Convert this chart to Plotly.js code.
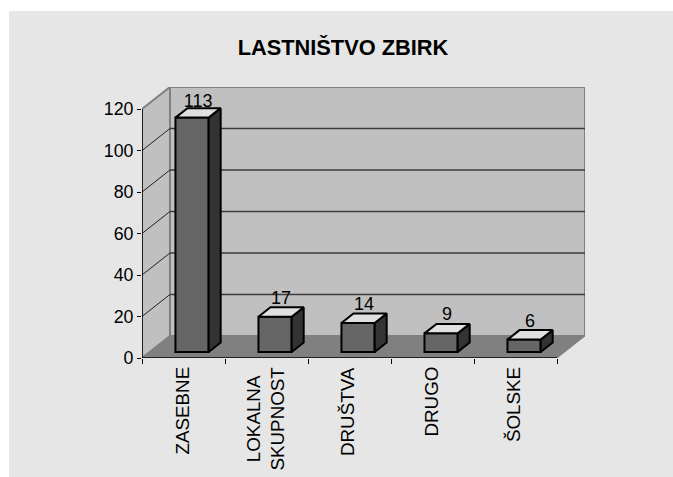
<!DOCTYPE html>
<html><head><meta charset="utf-8">
<script src="https://cdn.plot.ly/plotly-3.0.1.min.js"></script>
<style>html,body{margin:0;padding:0;background:#fff;overflow:hidden}#c{position:absolute;left:9px;top:11px;width:664px;height:466px}</style>
</head><body><div id="c"></div>
<script>
const categories = ["ZASEBNE", "LOKALNA<br>SKUPNOST", "DRUŠTVA", "DRUGO", "ŠOLSKE"];
const values = [113, 17, 14, 9, 6];
const yTicks = [0, 20, 40, 60, 80, 100, 120];
const chartTitle = "LASTNIŠTVO ZBIRK";

// oblique projection of the depth axis, in data units
const depthX = 0.337, depthY = 10.63;
const barWidth = 0.4, frontDepth = 0.27, backDepth = 0.70, barShift = 0.012;
const n = categories.length, yMax = yTicks[yTicks.length - 1];
const xL = -0.5, xR = n - 0.5;
const idx = categories.map((_, i) => i);

const fx = frontDepth * depthX + barShift, fy = frontDepth * depthY;
const bx = backDepth * depthX + barShift, by = backDepth * depthY;
const centers = idx.map(i => i + fx);
const sx = [], sy = [], tx = [], ty = [];
idx.forEach(i => {
  const l = centers[i] - barWidth / 2, r = centers[i] + barWidth / 2, top = fy + values[i];
  const ox = bx - fx, oy = by - fy;
  sx.push(r, r + ox, r + ox, r, r, null); sy.push(fy, fy + oy, top + oy, top, fy, null);
  tx.push(l, l + ox, r + ox, r, l, null); ty.push(top, top + oy, top + oy, top, top, null);
});

const poly = (pts, fill, color, w) => ({
  type: "path", layer: "below", xref: "x", yref: "y", fillcolor: fill,
  path: pts.map((p, i) => (i ? "L" : "M") + p[0] + "," + p[1]).join(" ") + " Z",
  line: { color: color, width: w }
});
const seg = (x0, y0, x1, y1, color, w) => ({
  type: "line", layer: "below", xref: "x", yref: "y", x0, y0, x1, y1, line: { color: color, width: w }
});
const shapes = [
  poly([[xL + depthX, depthY], [xR + depthX, depthY], [xR + depthX, yMax + depthY], [xL + depthX, yMax + depthY]], "#c0c0c0", "#808080", 2),
  poly([[xL, 0], [xL + depthX, depthY], [xL + depthX, yMax + depthY], [xL, yMax]], "#c0c0c0", "#808080", 2),
];
yTicks.slice(1, -1).forEach(t => {
  shapes.push(seg(xL + depthX, t + depthY, xR + depthX, t + depthY, "#3c3c3c", 1.5));
  shapes.push(seg(xL, t, xL + depthX, t + depthY, "#222", 1));
});
shapes.push(poly([[xL, 0], [xR, 0], [xR + depthX, depthY], [xL + depthX, depthY]], "#808080", "#808080", 1));
shapes.push(seg(xL, 0, xL, yMax, "#000", 1.5));
shapes.push(seg(xL, 0, xR, 0, "#000", 1.5));

const font = { family: "Liberation Sans, Arial, sans-serif", color: "#000" };
const traces = [
  { type: "bar", x: centers, y: values, base: idx.map(() => fy), width: barWidth,
    marker: { color: "#666666", line: { color: "#000", width: 2 } }, hoverinfo: "skip" },
  { type: "scatter", mode: "lines", x: sx, y: sy, fill: "toself", fillcolor: "#333333",
    line: { color: "#000", width: 2 }, hoverinfo: "skip" },
  { type: "scatter", mode: "lines", x: tx, y: ty, fill: "toself", fillcolor: "#e0e0e0",
    line: { color: "#000", width: 2 }, hoverinfo: "skip" },
  { type: "scatter", mode: "text", x: centers.map(c => c + (bx - fx) / 2), y: values.map(v => v + by - (v === Math.max(...values) ? 1.5 : 0.5)),
    text: values.map(String), textposition: "top center", textfont: { ...font, size: 18 }, hoverinfo: "skip" }
];
const layout = {
  width: 664, height: 466, showlegend: false,
  paper_bgcolor: "#e6e6e6", plot_bgcolor: "rgba(0,0,0,0)",
  margin: { l: 132.5, r: 87.5, t: 76, b: 119, pad: 0 },
  title: { text: chartTitle, x: 0.503, xanchor: "center", y: 0.921, yanchor: "middle",
    font: { ...font, size: 21.8, weight: 700 } },
  xaxis: { range: [xL, xR + depthX], showgrid: false, zeroline: false, showline: false, tickmode: "array",
    tickvals: idx.map(i => i - 0.5).concat([xR]), ticks: "outside", ticklen: 5, tickcolor: "#000", tickwidth: 1,
    showticklabels: false },
  yaxis: { range: [0, yMax + depthY], showgrid: false, zeroline: false, showline: false, tickmode: "array",
    tickvals: yTicks, ticks: "outside", ticklen: 4, tickcolor: "#000", tickwidth: 1,
    tickfont: { ...font, size: 17.8 } },
  annotations: categories.map((c, i) => ({
    text: c, x: i, y: 0, xref: "x", yref: "y", xanchor: "center", yanchor: "top", yshift: -8, xshift: -2,
    textangle: -90, showarrow: false, align: "center", font: { ...font, size: 18.8 }, borderpad: 0
  })),
  shapes
};
Plotly.newPlot("c", traces, layout, { displayModeBar: false, staticPlot: true });
</script></body></html>
